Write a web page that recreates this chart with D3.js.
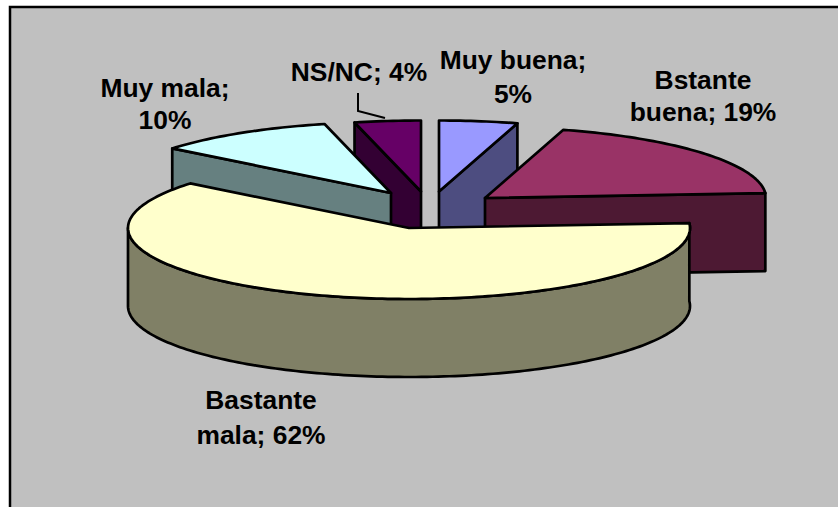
<!DOCTYPE html>
<html>
<head>
<meta charset="utf-8">
<script src="https://cdn.jsdelivr.net/npm/d3@7/dist/d3.min.js"></script>
<style>
  body { margin: 0; background: #fff; }
  text { font-family: "Liberation Sans", Arial, sans-serif; font-weight: bold; font-size: 26.4px; fill: #000; text-anchor: middle; }
</style>
</head>
<body>
<script>
var categories = ["Muy buena", "Bstante buena", "Bastante mala", "Muy mala", "NS/NC"];
var values = [4.5, 19.4, 61.9, 10.4, 3.8];

// styling, one entry per slice
var topColors = ["#9999ff", "#993366", "#ffffcc", "#ccffff", "#660066"];
var sideColors = ["#4d4d80", "#4d1933", "#808066", "#668080", "#330033"];
var apexX = [439, 485, 409, 391, 421];
var apexY = [191.5, 198, 228, 193, 191.5];
var drawOrder = [0, 4, 3, 1, 2];

// label lines: the category name is broken by hand as in the picture
var labelLines = [["Muy buena;", "%"], ["Bstante", "buena; %"], ["Bastante", "mala; %"], ["Muy mala;", "%"], ["NS/NC; %"]];
var labelX = [513, 703, 261, 165, 359];
var labelY = [[69, 103], [89, 121], [409, 444], [97, 129], [81]];

var width = 838, height = 507;
var depth = 78;

var svg = d3.select("body").append("svg")
  .attr("width", width)
  .attr("height", height)
  .style("display", "block");

// chart area, only left and top border are inside the picture
svg.append("rect")
  .attr("x", 10).attr("y", 7)
  .attr("width", width).attr("height", height)
  .attr("fill", "#c0c0c0")
  .attr("stroke", "#000")
  .attr("stroke-width", 2.5);

var pie = d3.pie().sort(null)(values);

// unit circle to screen offset
var sx = d3.scaleLinear().domain([-1, 1]).range([-281, 281]);
var sy = d3.scaleLinear().domain([-1, 1]).range([-71, 71]);

function rimX(i, a) { return apexX[i] + sx(Math.sin(a)); }
function rimY(i, a) { return apexY[i] + sy(-Math.cos(a)); }

function rimPoints(i, a0, a1, dy) {
  var n = Math.max(2, Math.ceil((a1 - a0) / 0.02));
  return d3.range(n + 1).map(function(k) {
    var a = a0 + (a1 - a0) * k / n;
    return [rimX(i, a), rimY(i, a) + dy];
  });
}

var line = d3.line();
var slices = svg.append("g")
  .attr("stroke", "#000")
  .attr("stroke-width", 2.7)
  .attr("stroke-linejoin", "round");

drawOrder.forEach(function(i) {
  var d = pie[i];
  var apex = [apexX[i], apexY[i]];

  // cut face looking to the viewer
  var faceAngle = null;
  if (d.endAngle < Math.PI) faceAngle = d.endAngle;
  if (d.startAngle > Math.PI) faceAngle = d.startAngle;
  if (faceAngle !== null) {
    var p = [rimX(i, faceAngle), rimY(i, faceAngle)];
    slices.append("path")
      .attr("d", line([apex, p, [p[0], p[1] + depth], [apex[0], apex[1] + depth]]) + "Z")
      .attr("fill", sideColors[i]);
  }

  // outer wall
  if (d.startAngle < Math.PI * 1.5 && d.endAngle > Math.PI / 2) {
    var a1 = Math.min(d.endAngle, Math.PI * 1.5);
    var upper = rimPoints(i, d.startAngle, a1, 0);
    var lower = rimPoints(i, d.startAngle, a1, depth).reverse();
    slices.append("path")
      .attr("d", line(upper.concat(lower)) + "Z")
      .attr("fill", sideColors[i]);
  }

  // top
  slices.append("path")
    .attr("d", line([apex].concat(rimPoints(i, d.startAngle, d.endAngle, 0))) + "Z")
    .attr("fill", topColors[i]);
});

// leader of NS/NC label
svg.append("path")
  .attr("d", line([[358, 93], [358, 111], [385, 118]]))
  .attr("fill", "none")
  .attr("stroke", "#000")
  .attr("stroke-width", 2);

var labels = svg.append("g");
categories.forEach(function(c, i) {
  labelLines[i].forEach(function(t, j) {
    labels.append("text")
      .attr("x", labelX[i])
      .attr("y", labelY[i][j])
      .text(t.replace("%", Math.round(values[i]) + "%"));
  });
});
</script>
</body>
</html>
